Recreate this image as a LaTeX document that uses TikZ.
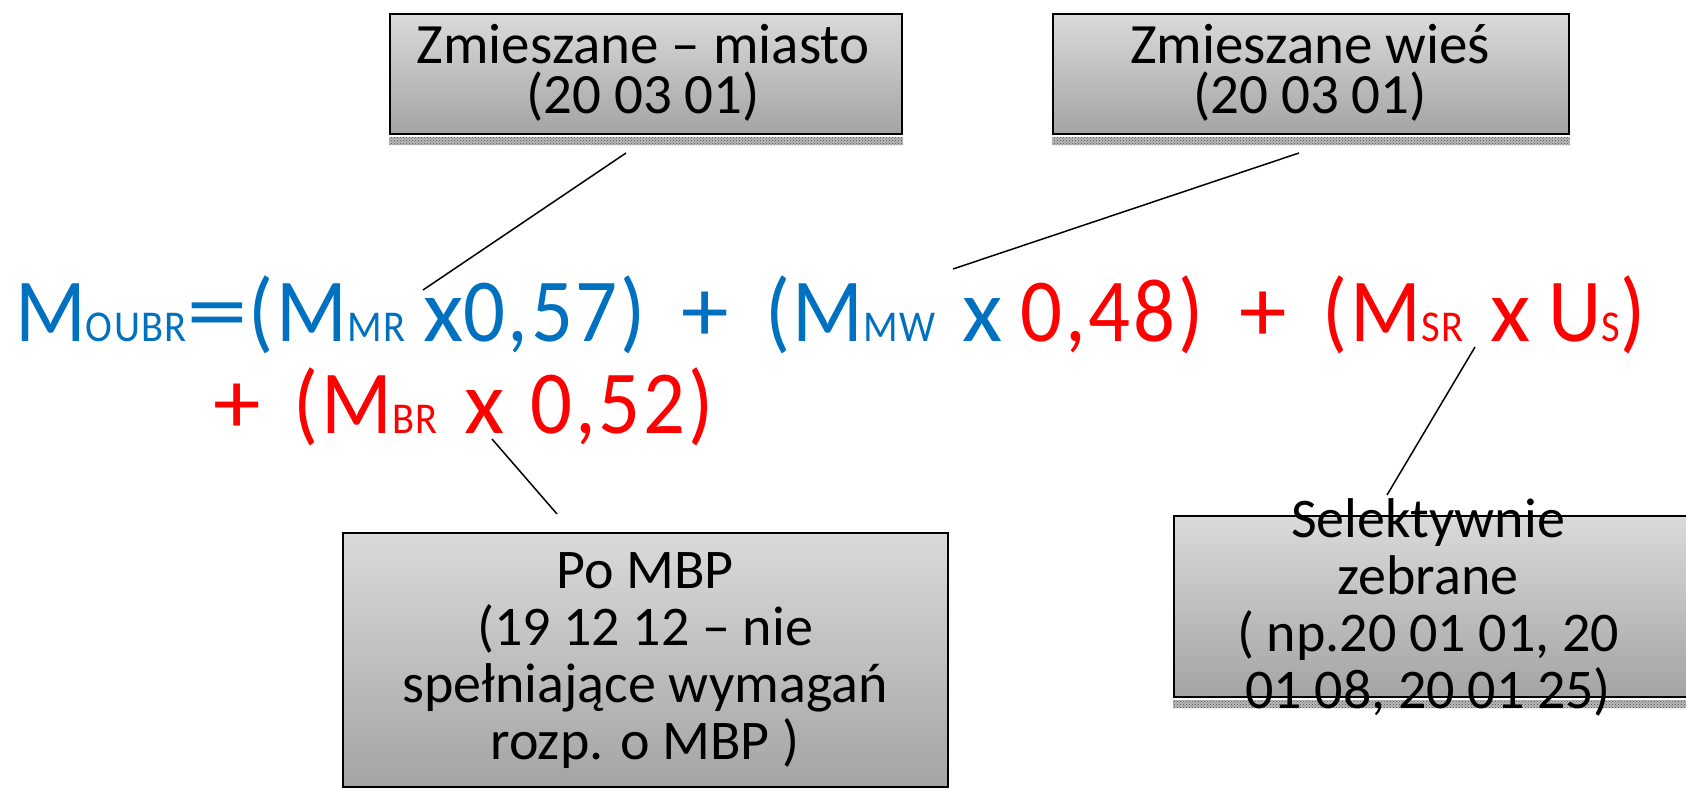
\documentclass[tikz,border=0pt]{standalone}
\usepackage{fontspec}
\setmainfont{Carlito}
\newfontfamily\formfont[FakeStretch=0.92,LetterSpace=3]{Carlito}
\usetikzlibrary{patterns,calc}
\definecolor{fblue}{RGB}{0,112,192}
\definecolor{fred}{RGB}{255,0,0}
\definecolor{boxtop}{RGB}{218,218,218}
\definecolor{boxbot}{RGB}{164,164,164}
\newcommand\smsub[1]{{\fontsize{44}{44}\selectfont #1}}
\newcommand\gap{\hspace{27pt}}
\newcommand\sgap{\hspace{18pt}}
\newcommand\pgap{\hspace{36pt}}
\newcommand\bx{\scalebox{1.12}[1]{x}}
\newcommand\beq{\scalebox{1.5}[1]{=}}
\newcommand\bplus{\scalebox{1.15}[1]{+}}
\tikzset{
  gbox/.style={draw=black, line width=2pt, top color=boxtop, bottom color=boxbot, inner sep=0pt, anchor=north west},
  shadowstrip/.style={pattern=crosshatch dots, pattern color=black!70},
  conn/.style={line width=1.5pt, draw=black},
  boxtxt/.style={font=\fontsize{57}{50}\selectfont, align=center, inner sep=0pt, anchor=base},
  boxtxtb/.style={font=\fontsize{56}{57}\selectfont, align=center, inner sep=0pt, anchor=base},
  bigf/.style={font=\formfont\fontsize{90}{100}\selectfont, inner sep=0pt, anchor=base west}
}
\begin{document}
\begin{tikzpicture}[x=1pt,y=-1pt]
\useasboundingbox (0,0) rectangle (1686,787);
\clip (0,0) rectangle (1686,787);
% boxes
\node[gbox, minimum width=512, minimum height=120] (box1) at (389,13) {};
\node[gbox, minimum width=516, minimum height=120] (box2) at (1052,13) {};
\node[gbox, minimum width=605, minimum height=254] (box3) at (342,532) {};
\node[gbox, minimum width=560, minimum height=181] (box4) at (1173,515) {};
% shadow strips
\foreach \b in {box1,box2,box3,box4}{
  \fill[gray!55] ($(\b.south west)+(0,2)$) rectangle ($(\b.south east)+(0,10)$);
  \fill[shadowstrip] ($(\b.south west)+(0,2)$) rectangle ($(\b.south east)+(0,10)$);
}
% box texts
\node[boxtxt] (t1) at (643,113) {Zmieszane – miasto\\(20 03 01)};
\node[boxtxt] (t2) at (1310,113) {Zmieszane wieś\\(20 03 01)};
\node[boxtxtb] (t3) at (645,759) {Po MBP\\(19 12 12 – nie\\spełniające wymagań\\rozp. o MBP )};
\node[boxtxtb] (t4) at (1428,708) {Selektywnie\\zebrane\\( np.20 01 01, 20\\01 08, 20 01 25)};
% formula
\node[bigf] (f1) at (15,341) {\color{fblue}M\smsub{OUBR}\beq(M\smsub{MR}\sgap\bx0,57)\pgap\bplus\pgap(M\smsub{MW}\gap\bx\sgap\color{fred}0,48)\pgap\bplus\pgap(M\smsub{SR}\gap\bx\sgap U\smsub{S})};
\node[bigf] (f2) at (213,433) {\color{fred}\bplus\hspace{33pt}(M\smsub{BR}\gap\bx\hspace{26pt}0,52)};
% connectors
\coordinate (c1a) at (626,153); \coordinate (c1b) at (423,290);
\coordinate (c2a) at (1299,153); \coordinate (c2b) at (953,269);
\coordinate (c3a) at (492,439); \coordinate (c3b) at (557,514);
\coordinate (c4a) at (1475,347); \coordinate (c4b) at (1387,495);
\draw[conn] (c1a) -- (c1b);
\draw[conn] (c2a) -- (c2b);
\draw[conn] (c3a) -- (c3b);
\draw[conn] (c4a) -- (c4b);
\end{tikzpicture}
\end{document}
